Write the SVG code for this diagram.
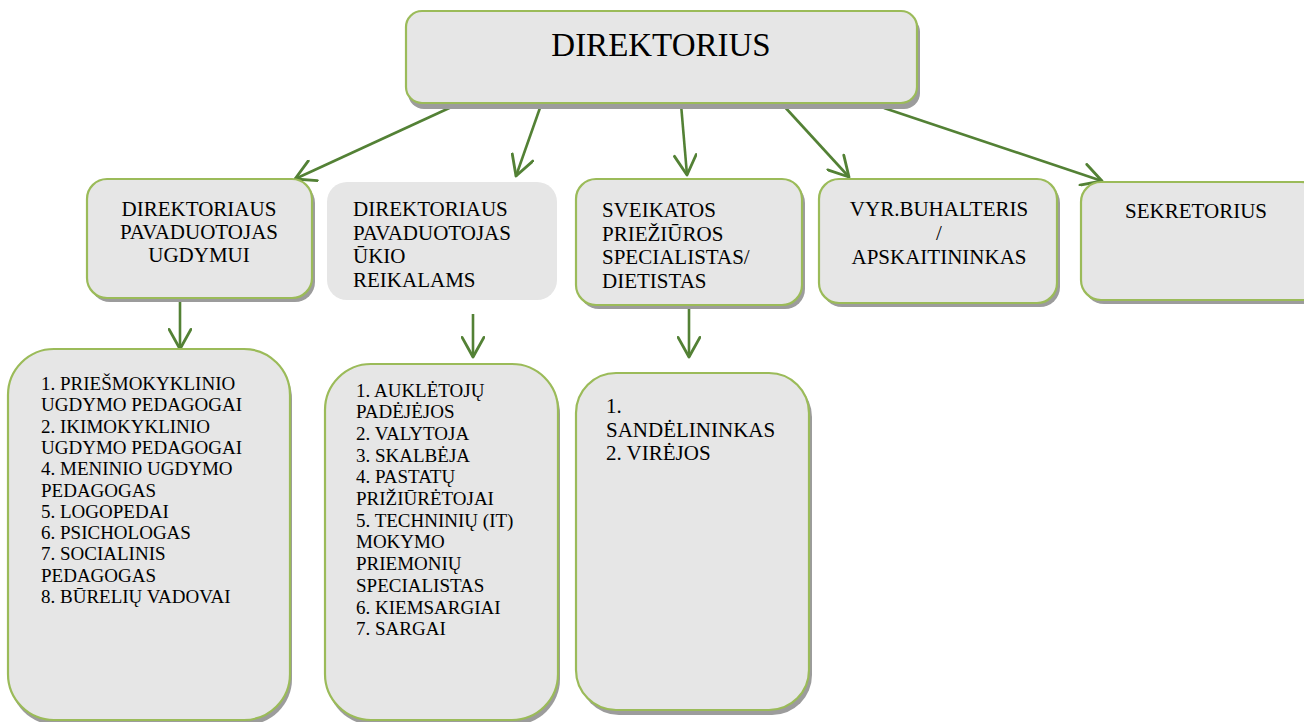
<svg xmlns="http://www.w3.org/2000/svg" width="1304" height="722" viewBox="0 0 1304 722">
<defs>
<marker id="arr" markerUnits="userSpaceOnUse" markerWidth="24" markerHeight="24" viewBox="0 0 22 22" refX="20" refY="11" orient="auto">
<path d="M2,1 L20,11 L2,21" fill="none" stroke="#538135" stroke-width="2.6" stroke-linecap="round" stroke-linejoin="round"/>
</marker>
</defs>
<style>
.box{fill:#E6E6E6;stroke:#9BBB59;stroke-width:2.2}
.plain{fill:#E6E6E6}
.sh{fill:#9C9C9C}
text{font-family:'Liberation Serif','Times New Roman','DejaVu Serif',serif;fill:#000}
.c{text-anchor:middle}
.con{stroke:#538135;stroke-width:2.6;fill:none;marker-end:url(#arr)}
</style>
<rect width="1304" height="722" fill="#fff"/>

<g id="connectors">
<line class="con" x1="458" y1="104" x2="295" y2="179"/>
<line class="con" x1="541" y1="105" x2="516" y2="176"/>
<line class="con" x1="681" y1="104" x2="687" y2="175"/>
<line class="con" x1="783" y1="105" x2="849" y2="177"/>
<line class="con" x1="884" y1="108" x2="1102" y2="181"/>
<line class="con" x1="180" y1="299" x2="180" y2="349"/>
<line class="con" x1="473" y1="314" x2="473" y2="357"/>
<line class="con" x1="689" y1="307" x2="689" y2="357"/>
</g>

<g id="direktorius">
<rect class="sh" x="408" y="16" width="512" height="93" rx="16"/>
<rect class="box" x="406" y="11" width="511" height="92" rx="16"/>
<text class="c" font-family="Liberation Serif, serif" x="661" y="56" font-size="33">DIREKTORIUS</text>
</g>

<g id="pav-ugdymui">
<rect class="sh" x="90" y="183" width="225" height="119" rx="20"/>
<rect class="box" x="87" y="179" width="225" height="119" rx="20"/>
<text class="c" font-family="Liberation Serif, serif" font-size="21"><tspan x="199" y="216">DIREKTORIAUS</tspan><tspan x="199" y="239">PAVADUOTOJAS</tspan><tspan x="199" y="262">UGDYMUI</tspan></text>
</g>

<g id="pav-ukio">
<rect class="plain" x="327" y="182" width="230" height="118" rx="20"/>
<text font-family="Liberation Serif, serif" font-size="21"><tspan x="353" y="216">DIREKTORIAUS</tspan><tspan x="353" y="239.5">PAVADUOTOJAS</tspan><tspan x="353" y="263">ŪKIO</tspan><tspan x="353" y="286.5">REIKALAMS</tspan></text>
</g>

<g id="sveikatos">
<rect class="sh" x="579" y="183" width="226" height="126" rx="20"/>
<rect class="box" x="576" y="179" width="226" height="126" rx="20"/>
<text font-family="Liberation Serif, serif" font-size="21"><tspan x="602" y="217">SVEIKATOS</tspan><tspan x="602" y="240.5">PRIEŽIŪROS</tspan><tspan x="602" y="264">SPECIALISTAS/</tspan><tspan x="602" y="287.5">DIETISTAS</tspan></text>
</g>

<g id="buhalteris">
<rect class="sh" x="822" y="183" width="238" height="124" rx="20"/>
<rect class="box" x="819" y="179" width="238" height="124" rx="20"/>
<text class="c" font-family="Liberation Serif, serif" font-size="21"><tspan x="939" y="216">VYR.BUHALTERIS</tspan><tspan x="939" y="240">/</tspan><tspan x="939" y="264">APSKAITININKAS</tspan></text>
</g>

<g id="sekretorius">
<rect class="sh" x="1084" y="186" width="240" height="118" rx="20"/>
<rect class="box" x="1081" y="182" width="240" height="118" rx="20"/>
<text class="c" font-family="Liberation Serif, serif" x="1196" y="218" font-size="21">SEKRETORIUS</text>
</g>

<g id="ugdymo-darbuotojai">
<rect class="sh" x="10" y="353" width="282" height="372" rx="46"/>
<rect class="box" x="8" y="349" width="282" height="371" rx="46"/>
<text font-family="Liberation Serif, serif" font-size="19"><tspan x="41" y="390">1. PRIEŠMOKYKLINIO</tspan><tspan x="41" y="411.3">UGDYMO PEDAGOGAI</tspan><tspan x="41" y="432.6">2. IKIMOKYKLINIO</tspan><tspan x="41" y="453.9">UGDYMO PEDAGOGAI</tspan><tspan x="41" y="475.2">4. MENINIO UGDYMO</tspan><tspan x="41" y="496.5">PEDAGOGAS</tspan><tspan x="41" y="517.8">5. LOGOPEDAI</tspan><tspan x="41" y="539.1">6. PSICHOLOGAS</tspan><tspan x="41" y="560.4">7. SOCIALINIS</tspan><tspan x="41" y="581.7">PEDAGOGAS</tspan><tspan x="41" y="603">8. BŪRELIŲ VADOVAI</tspan></text>
</g>

<g id="ukio-darbuotojai">
<rect class="sh" x="327" y="368" width="233" height="357" rx="46"/>
<rect class="box" x="325" y="364" width="233" height="356" rx="46"/>
<text font-family="Liberation Serif, serif" font-size="19"><tspan x="356" y="396.5">1. AUKLĖTOJŲ</tspan><tspan x="356" y="418.2">PADĖJĖJOS</tspan><tspan x="356" y="439.9">2. VALYTOJA</tspan><tspan x="356" y="461.6">3. SKALBĖJA</tspan><tspan x="356" y="483.3">4. PASTATŲ</tspan><tspan x="356" y="505">PRIŽIŪRĖTOJAI</tspan><tspan x="356" y="526.7">5. TECHNINIŲ (IT)</tspan><tspan x="356" y="548.4">MOKYMO</tspan><tspan x="356" y="570.1">PRIEMONIŲ</tspan><tspan x="356" y="591.8">SPECIALISTAS</tspan><tspan x="356" y="613.5">6. KIEMSARGIAI</tspan><tspan x="356" y="635.2">7. SARGAI</tspan></text>
</g>

<g id="sveikatos-darbuotojai">
<rect class="sh" x="579" y="377" width="233" height="338" rx="40"/>
<rect class="box" x="576" y="373" width="233" height="337" rx="40"/>
<text font-family="Liberation Serif, serif" font-size="21"><tspan x="606" y="413">1.</tspan><tspan x="606" y="436.5">SANDĖLININKAS</tspan><tspan x="606" y="460">2. VIRĖJOS</tspan></text>
</g>
</svg>
